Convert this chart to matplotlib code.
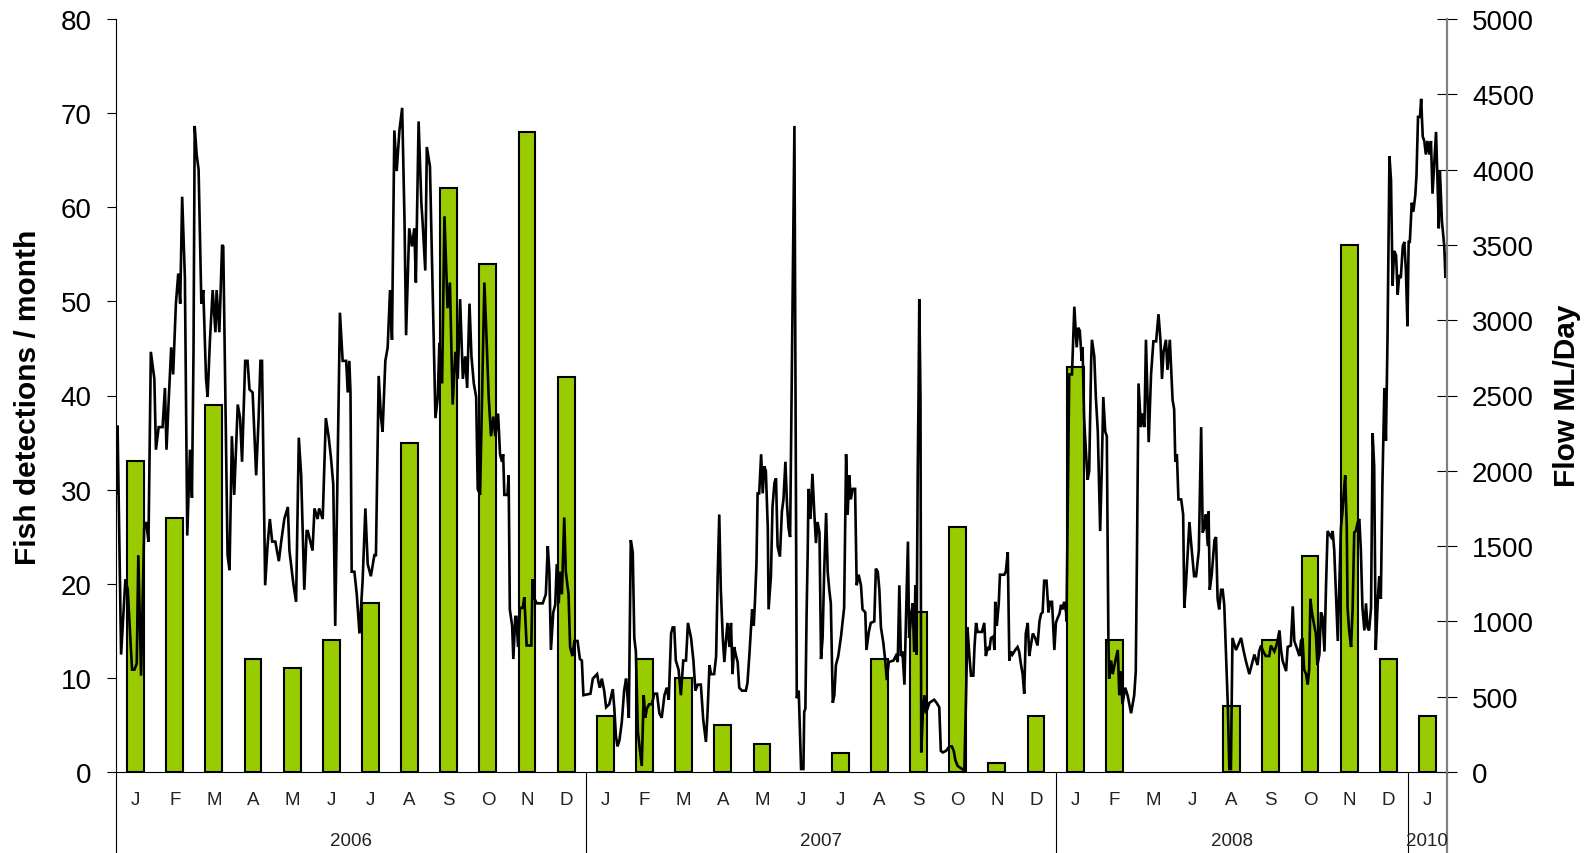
import matplotlib
matplotlib.use('Agg')
import matplotlib.pyplot as plt

plt.rcParams['font.family'] = ['Liberation Sans', 'DejaVu Sans']

# categorias do eixo x (2008 sem abril e maio)
meses = ['J', 'F', 'M', 'A', 'M', 'J', 'J', 'A', 'S', 'O', 'N', 'D',
         'J', 'F', 'M', 'A', 'M', 'J', 'J', 'A', 'S', 'O', 'N', 'D',
         'J', 'F', 'M', 'J', 'A', 'S', 'O', 'N', 'D',
         'J']
anos = ['2006', '2007', '2008', '2010']
anos_inicio = [0, 12, 24, 33]
anos_fim = [12, 24, 33, 34]

# deteccoes de peixes por mes (eixo esquerdo)
deteccoes = [33, 27, 39, 12, 11, 14, 18, 35, 62, 54, 68, 42,
             6, 12, 10, 5, 3, 0, 2, 12, 17, 26, 1, 6,
             43, 14, 0, 0, 7, 14, 23, 56, 12,
             6]

# vazao diaria (eixo direito), posicao em meses desde o inicio
vazao_pos = [
    0.00, 0.04, 0.13, 0.24, 0.30, 0.41, 0.47, 0.53, 0.57, 0.64, 0.72, 0.77, 0.83, 0.85, 0.89, 0.98,
    1.02, 1.09, 1.19, 1.25, 1.29, 1.35, 1.41, 1.46, 1.53, 1.59, 1.64, 1.69, 1.76, 1.82, 1.89, 1.94, 1.98,
    2.01, 2.06, 2.11, 2.18, 2.23, 2.30, 2.34, 2.40, 2.47, 2.54, 2.57, 2.64, 2.71, 2.74, 2.85, 2.90, 2.96,
    3.02, 3.11, 3.17, 3.22, 3.30, 3.36, 3.41, 3.49, 3.58, 3.64, 3.69, 3.73, 3.81, 3.87, 3.93, 3.99,
    4.07, 4.16, 4.22, 4.30, 4.39, 4.43, 4.53, 4.60, 4.67, 4.73, 4.81, 4.87,
    4.90, 5.02, 5.07, 5.15, 5.19, 5.28, 5.36, 5.43, 5.49, 5.55, 5.60, 5.66, 5.72, 5.79, 5.88, 5.92, 5.96, 5.99,
    6.02, 6.09, 6.15, 6.22, 6.30, 6.37, 6.43, 6.51, 6.60, 6.64, 6.71, 6.77, 6.81, 6.88, 6.94,
    7.00, 7.05, 7.11, 7.17, 7.24, 7.31, 7.37, 7.41, 7.49, 7.56, 7.62, 7.66, 7.73, 7.80, 7.83, 7.90, 7.94,
    8.02, 8.09, 8.16, 8.22, 8.26, 8.33, 8.39, 8.47, 8.53, 8.60, 8.67, 8.73, 8.79, 8.86, 8.92, 8.97,
    9.03, 9.08, 9.14, 9.20, 9.24, 9.30, 9.37, 9.41, 9.47, 9.52, 9.58, 9.64, 9.69, 9.76, 9.81, 9.86, 9.89, 9.92,
    10.00, 10.03, 10.06, 10.12, 10.15, 10.20, 10.23, 10.27, 10.32, 10.39, 10.43, 10.49, 10.61, 10.64, 10.69, 10.75, 10.90, 10.98,
    11.03, 11.07, 11.11, 11.17, 11.22, 11.26, 11.31, 11.34, 11.39, 11.45, 11.49, 11.56, 11.60, 11.66, 11.71, 11.79, 11.85, 11.90, 11.94,
    12.12, 12.18, 12.29, 12.33, 12.36, 12.41, 12.47, 12.52, 12.60, 12.69, 12.73, 12.77, 12.81, 12.86, 12.92, 12.98,
    13.03, 13.05, 13.10, 13.15, 13.20, 13.24, 13.28, 13.33, 13.37, 13.43, 13.48, 13.52, 13.56, 13.62, 13.69, 13.75, 13.82, 13.88, 13.94,
    14.01, 14.07, 14.12, 14.18, 14.22, 14.26, 14.30, 14.37, 14.43, 14.49, 14.56, 14.61, 14.69, 14.75, 14.80, 14.86, 14.94,
    15.00, 15.07, 15.11, 15.16, 15.20, 15.28, 15.33, 15.37, 15.41, 15.45, 15.50, 15.54, 15.58, 15.62, 15.67, 15.71, 15.75, 15.79, 15.84, 15.88, 15.92, 15.99,
    16.09, 16.13, 16.18, 16.25, 16.29, 16.32, 16.36, 16.39, 16.43, 16.48, 16.52, 16.56, 16.60, 16.65, 16.67, 16.73, 16.77, 16.82, 16.86, 16.90, 16.96,
    17.01, 17.05, 17.10, 17.14, 17.18, 17.22, 17.25, 17.28, 17.33, 17.35, 17.39, 17.44, 17.50, 17.56, 17.58, 17.61, 17.64, 17.67, 17.69, 17.74, 17.79, 17.84, 17.88, 17.92, 17.97,
    18.01, 18.05, 18.09, 18.14, 18.18, 18.22, 18.26, 18.31, 18.35, 18.39, 18.45, 18.52, 18.60, 18.65, 18.69, 18.73, 18.77, 18.82, 18.88, 18.92, 18.97,
    19.03, 19.07, 19.14, 19.17, 19.23, 19.28, 19.37, 19.41, 19.46, 19.50, 19.54, 19.60, 19.65, 19.69, 19.74, 19.86, 19.92, 19.97,
    20.01, 20.05, 20.09, 20.14, 20.18, 20.23, 20.26, 20.31, 20.35, 20.39, 20.42, 20.45, 20.48, 20.50, 20.52, 20.55, 20.57, 20.61, 20.65, 20.69, 20.78, 20.90, 20.96,
    21.03, 21.07, 21.12, 21.20, 21.29, 21.35, 21.40, 21.44, 21.50, 21.67, 21.71, 21.75, 21.80, 21.84, 21.90, 21.93, 21.97,
    22.01, 22.12, 22.18, 22.22, 22.27, 22.31, 22.35, 22.41, 22.44, 22.46, 22.50, 22.55, 22.58, 22.69, 22.73, 22.78, 22.82, 22.86, 22.90, 22.97,
    23.03, 23.07, 23.12, 23.16, 23.20, 23.24, 23.29, 23.33, 23.37, 23.42, 23.48, 23.54, 23.59, 23.63, 23.67, 23.71, 23.77, 23.82, 23.86, 23.91, 23.97,
    24.01, 24.05, 24.10, 24.14, 24.18, 24.22, 24.27, 24.28, 24.35, 24.42, 24.48, 24.54, 24.58, 24.62, 24.67, 24.69, 24.73, 24.78, 24.82, 24.86, 24.91, 24.93, 24.99,
    25.03, 25.08, 25.14, 25.18, 25.22, 25.27, 25.31, 25.35, 25.37, 25.42, 25.46, 25.53, 25.59, 25.63, 25.67, 25.71, 25.78, 25.84, 25.93,
    26.01, 26.05, 26.08, 26.12, 26.18, 26.22, 26.27, 26.31, 26.38, 26.44, 26.50, 26.57, 26.63, 26.68, 26.72, 26.76, 26.82, 26.86, 26.92, 26.99,
    27.03, 27.06, 27.10, 27.14, 27.21, 27.26, 27.29, 27.33, 27.42, 27.46, 27.54, 27.59, 27.66, 27.72, 27.76, 27.80, 27.84, 27.89, 27.91, 27.94, 27.99,
    28.06, 28.10, 28.14, 28.18, 28.23, 28.27, 28.31, 28.40, 28.44, 28.48, 28.52, 28.61, 28.74, 28.80, 28.86, 28.95, 29.08,
    29.16, 29.20, 29.25, 29.29, 29.37, 29.46, 29.50, 29.59, 29.63, 29.67, 29.72, 29.76, 29.80, 29.89, 29.93,
    30.01, 30.06, 30.10, 30.18, 30.23, 30.27, 30.31, 30.35, 30.40, 30.44, 30.48, 30.51, 30.55, 30.61, 30.65, 30.69, 30.74, 30.78, 30.82, 30.87, 30.91, 30.95,
    31.04, 31.08, 31.12, 31.16, 31.21, 31.25, 31.29, 31.33, 31.38, 31.40, 31.44, 31.46, 31.50, 31.55, 31.59, 31.63, 31.67, 31.72, 31.76, 31.80, 31.84, 31.89, 31.93, 31.97,
    32.01, 32.06, 32.10, 32.14, 32.18, 32.23, 32.27, 32.31, 32.35, 32.40, 32.44, 32.48, 32.53, 32.57, 32.61, 32.65, 32.70, 32.74, 32.78, 32.82, 32.87, 32.91, 32.95, 32.99,
    33.02, 33.05, 33.10, 33.14, 33.19, 33.22, 33.26, 33.31, 33.34, 33.38, 33.42, 33.46, 33.50, 33.55, 33.59, 33.63, 33.67, 33.72, 33.76, 33.79, 33.82, 33.87, 33.93, 33.96, 33.99,
]
vazao = [
    1850, 2300, 780, 1280, 1210, 680, 680, 720, 1440, 640, 1620, 1660, 1530, 1970, 2790, 2610,
    2140, 2290, 2290, 2550, 2140, 2490, 2820, 2640, 3110, 3310, 3110, 3820, 3280, 1570, 2140, 1820, 2790,
    4290, 4100, 4000, 3110, 3200, 2610, 2490, 2870, 3200, 2920, 3200, 2920, 3500, 3490, 1440, 1340, 2230,
    1840, 2440, 2350, 2060, 2730, 2730, 2540, 2520, 1970, 2330, 2730, 2730, 1240, 1500, 1680, 1530,
    1530, 1400, 1530, 1680, 1760, 1470, 1250, 1130, 2220, 1970, 1210, 1600,
    1600, 1470, 1750, 1680, 1750, 1680, 2350, 2230, 2090, 1910, 970, 2000, 3050, 2730, 2730, 2520, 2730, 2520,
    1330, 1330, 1180, 920, 1270, 1750, 1380, 1300, 1440, 1440, 2630, 2350, 2260, 2730, 2820,
    3200, 2870, 4260, 3990, 4260, 4410, 3660, 2900, 3610, 3490, 3610, 3250, 4320, 3780, 3660, 3330, 4150,
    4020, 3200, 2350, 2490, 2850, 2580, 3690, 3080, 3250, 2440, 2790, 2610, 3140, 2610, 2760, 2550,
    3110, 2760, 2580, 2490, 1880, 1840, 2760, 3250, 2850, 2490, 2230, 2360, 2230, 2380, 2110, 2060, 2110, 1840,
    1840, 1970, 1080, 970, 750, 1030, 1030, 830, 1090, 1090, 1160, 840, 840, 1280, 1150, 1120, 1120, 1180,
    1500, 1330, 810, 1060, 1110, 1380, 1120, 1330, 1180, 1690, 1330, 1180, 830, 770, 870, 870, 750, 740, 510,
    520, 620, 650, 590, 560, 620, 540, 430, 450, 550, 420, 240, 170, 210, 330, 540,
    620, 560, 360, 1540, 1460, 890, 800, 270, 180, 40, 510, 360, 420, 450, 450, 520, 520, 390, 360,
    510, 560, 480, 920, 960, 960, 740, 680, 510, 740, 740, 990, 890, 740, 540, 580, 580,
    350, 200, 390, 710, 650, 650, 770, 1300, 1710, 1210, 890, 730, 870, 990, 830, 990, 650, 830, 770, 730, 560, 540,
    540, 590, 780, 1080, 970, 1120, 1380, 1850, 1850, 2110, 1850, 2030, 2000, 1620, 1080, 1300, 1760, 1920, 1950, 1500, 1430,
    1730, 1810, 2060, 1780, 1620, 1560, 2320, 3020, 4290, 3080, 490, 540, 20, 20, 400, 420, 1030, 1470, 1880, 1680, 1980, 1710, 1520, 1660, 1590,
    750, 890, 1330, 1720, 1330, 1210, 1120, 460, 510, 710, 770, 900, 1090, 2110, 1710, 1970, 1810, 1880, 1880, 1240, 1310,
    1240, 1080, 1060, 810, 930, 990, 1000, 1350, 1330, 1210, 960, 860, 740, 610, 730, 740, 770, 730,
    1240, 770, 800, 580, 1020, 1530, 890, 1030, 1120, 800, 1240, 780, 2000, 2490, 3140, 2490, 130, 390, 510, 390, 460, 480, 460,
    430, 140, 130, 140, 170, 170, 140, 80, 40, 10, 450, 960, 770, 640, 640, 830, 990,
    930, 930, 990, 770, 830, 810, 890, 900, 810, 1130, 970, 1120, 1310, 1310, 1330, 1460, 740, 800, 780, 810,
    830, 800, 710, 650, 520, 920, 990, 770, 840, 920, 890, 840, 1000, 1050, 1060, 1270, 1270, 1060, 1130, 1130, 810,
    990, 1020, 1050, 1110, 1080, 1130, 1060, 1000, 2640, 2640, 3090, 2820, 2950, 2930, 2730, 2820, 2350, 2110, 1940, 2000, 2730, 2870, 2760,
    2490, 2260, 1600, 2000, 2490, 2260, 2230, 890, 620, 740, 650, 740, 810, 510, 670, 450, 560, 510, 390,
    510, 670, 1440, 2580, 2290, 2380, 2290, 2870, 2190, 2640, 2860, 2860, 3040, 2870, 2610, 2790, 2870, 2670, 2870, 2470,
    2410, 2060, 2110, 1810, 1810, 1710, 1090, 1240, 1660, 1530, 1300, 1300, 1470, 2290, 1590, 1620, 1710, 1500, 1730, 1210, 1310,
    1540, 1560, 1150, 1080, 1210, 1210, 1110, 450, 20, 20, 890, 810, 890, 810, 740, 650, 780,
    710, 800, 840, 810, 770, 770, 840, 800, 830, 870, 940, 810, 740, 670, 830,
    840, 1100, 870, 810, 770, 870, 890, 680, 650, 580, 680, 1150, 1060, 970, 920, 710, 780, 1060, 1030, 800, 1240, 1600,
    1560, 1600, 1470, 1210, 870, 1240, 1620, 1730, 1910, 1970, 1620, 1090, 940, 830, 1090, 1590, 1600, 1660, 1680, 1470, 1090, 940, 1120, 960,
    940, 1090, 2250, 2030, 810, 1130, 1300, 1150, 1910, 2550, 2200, 2870, 4090, 3930, 3230, 3460, 3430, 3170, 3300, 3280, 3490, 3520, 3330, 2960,
    3520, 3520, 3780, 3720, 3830, 3960, 4350, 4350, 4470, 4220, 4190, 4100, 4190, 4100, 4190, 3840, 4020, 4250, 3900, 3610, 3990, 3660, 3490, 3280, 3440,
]

fig = plt.figure(figsize=(15.9, 8.54), dpi=100)
ax = fig.add_axes([116 / 1590, 81 / 854, 1331 / 1590, 753 / 854])
ax2 = ax.twinx()

# meses sem deteccoes nao tem barra
x = [i + 0.5 for i, d in enumerate(deteccoes) if d > 0]
alturas = [d for d in deteccoes if d > 0]
ax.bar(x, alturas, width=0.43, color='#99CC00', edgecolor='black', linewidth=1.5, zorder=2)
ax.set_xlim(0, 34)
ax.set_ylim(0, 80)
ax.set_yticks(range(0, 81, 10))
ax.set_xticks([])

ax2.plot(vazao_pos, vazao, color='black', linewidth=1.9, solid_joinstyle='miter')
ax2.set_ylim(0, 5000)
ax2.set_yticks(range(0, 5001, 500))

for s in ['top', 'right']:
    ax.spines[s].set_visible(False)
for s in ['top', 'left', 'bottom']:
    ax2.spines[s].set_visible(False)
ax.spines['left'].set_linewidth(0.8)
ax.spines['bottom'].set_linewidth(0.8)
ax2.spines['right'].set_color('#808080')
ax2.spines['right'].set_linewidth(1.6)

ax.tick_params(axis='y', direction='out', length=6.5, width=0.8, labelsize=20, pad=11)
ax2.tick_params(axis='y', direction='inout', length=14, width=0.8, labelsize=20, pad=11)

# rotulos dos meses e anos abaixo do eixo
trans = ax.get_xaxis_transform()
for i, m in enumerate(meses):
    ax.text(i + 0.5, -0.037, m, transform=trans, ha='center', va='center', fontsize=13.5, color='#222222')
for nome, a, b in zip(anos, anos_inicio, anos_fim):
    ax.text((a + b) / 2, -0.0916, nome, transform=trans, ha='center', va='center', fontsize=13.5, color='#222222')
for xs in [0, 12, 24, 33]:
    ax.plot([xs, xs], [0, -0.11], transform=trans, color='black', linewidth=0.8, clip_on=False)
ax.plot([34, 34], [0, -0.11], transform=trans, color='#808080', linewidth=1.6, clip_on=False)

fig.text(28 / 1590, 1 - 397 / 854, 'Fish detections / month', rotation=90, ha='center', va='center',
         fontsize=21.5, fontweight='bold')
fig.text(1567 / 1590, 1 - 396 / 854, 'Flow ML/Day', rotation=90, ha='center', va='center',
         fontsize=21.5, fontweight='bold')

fig.savefig('out.png', dpi=100)
